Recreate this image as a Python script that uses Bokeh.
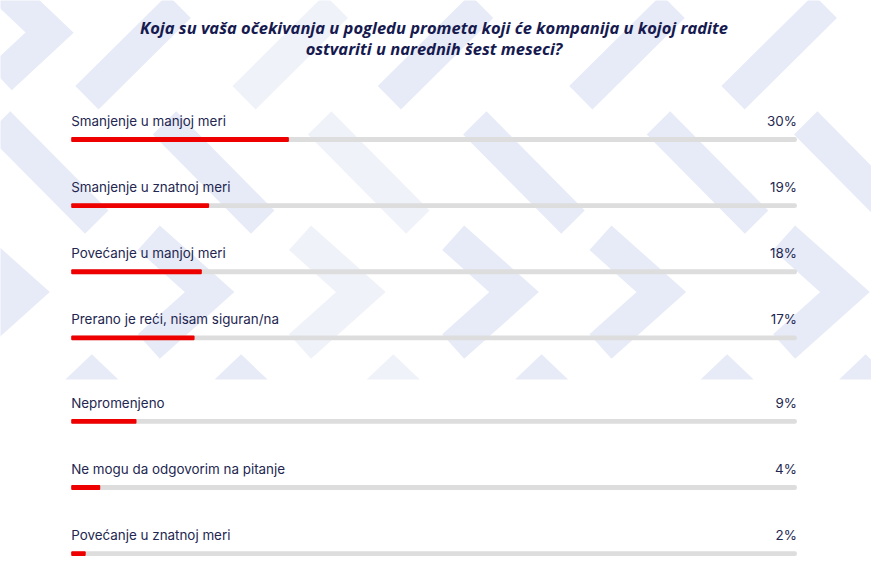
from bokeh.plotting import figure
from bokeh.models import Range1d, ColumnDataSource
from bokeh.core.properties import value
from bokeh.embed import file_html
from bokeh.resources import INLINE

# ---------------- data ----------------
title_lines = [
    "Koja su vaša očekivanja u pogledu prometa koji će kompanija u kojoj radite",
    "ostvariti u narednih šest meseci?",
]
categories = [
    "Smanjenje u manjoj meri",
    "Smanjenje u znatnoj meri",
    "Povećanje u manjoj meri",
    "Prerano je reći, nisam siguran/na",
    "Nepromenjeno",
    "Ne mogu da odgovorim na pitanje",
    "Povećanje u znatnoj meri",
]
values = [30, 19, 18, 17, 9, 4, 2]
pct_labels = [f"{v}%" for v in values]

# ---------------- layout ----------------
W, H = 871, 557            # figure size (fits the 887x573 window with margins)
REF_W, REF_H = 887, 573    # design grid the layout is expressed in
PX_PER_PCT = 7.39          # design pixels per percent point
X0 = 72                    # design pixel where 0 % sits
x_start = -X0 / PX_PER_PCT
x_end = (REF_W - X0) / PX_PER_PCT

p = figure(width=W, height=H, output_backend="svg", toolbar_location=None,
           x_range=Range1d(x_start, x_end), y_range=Range1d(REF_H, 0),
           x_axis_location=None, y_axis_location=None, min_border=0)
p.grid.visible = False
p.outline_line_color = None
p.background_fill_color = "white"
p.border_fill_color = "white"


def sx(px):
    """design x (pixel) -> data x"""
    return (px - X0) / PX_PER_PCT


# ---------------- decorative background ----------------
main_c, light_c = "#e7ebf7", "#f0f2fa"
band1 = [(135, main_c), (295, light_c), (443, main_c), (638, main_c), (793, main_c)]
band2 = [(48, main_c), (217, main_c), (375, light_c), (533, main_c), (720, main_c), (870, main_c)]
band3 = [(25, main_c), (213, main_c), (367, light_c), (523, main_c), (673, main_c), (860, main_c)]
band4 = [(93, main_c), (245, main_c), (400, light_c), (551, main_c), (740, main_c), (881, main_c)]

xs, ys, cs = [], [], []
for cx, c in band1:
    xs.append([sx(cx - 47), sx(cx + 47)]); ys.append([100, 6]); cs.append(c)
xs.append([sx(0), sx(50), sx(0)]); ys.append([-15, 33, 80]); cs.append(main_c)
for cx, c in band2:
    xs.append([sx(cx - 50), sx(cx + 50)]); ys.append([126, 228]); cs.append(c)
for cx, c in band3:
    xs.append([sx(cx - 62), sx(cx), sx(cx - 62)]); ys.append([244, 300, 356]); cs.append(c)
p.multi_line(xs=xs, ys=ys, line_color=cs, line_width=33, line_join="miter", line_cap="butt")
txs, tys, tcs = [], [], []
for cx, c in band4:
    txs.append([sx(cx - 27), sx(cx), sx(cx + 27)]); tys.append([390, 364, 390]); tcs.append(c)
p.patches(xs=txs, ys=tys, fill_color=tcs, line_color=None)

# ---------------- rows ----------------
n = len(categories)
row_step, group_gap, top_bar = 68, 18, 143
bar_y = [top_bar + row_step * i + (group_gap if i >= 4 else 0) for i in range(n)]
label_y = [b - 19 for b in bar_y]

src = ColumnDataSource(dict(cat=categories, val=values, pct=pct_labels,
                            by=bar_y, ly=label_y,
                            zero=[0] * n, full=[100] * n))

p.hbar(y="by", left="zero", right="full", height=5, source=src,
       fill_color="#dddddd", line_color=None, border_radius=2)
p.hbar(y="by", left="zero", right="val", height=5, source=src,
       fill_color="#ee0000", line_color=None, border_radius=1)

p.text(x="zero", y="ly", text="cat", source=src,
       text_font=value("Inter"), text_font_size="13.4px", text_color="#232650",
       text_align="left", text_baseline="alphabetic")
p.text(x="full", y="ly", text="pct", source=src,
       text_font=value("Inter"), text_font_size="13.4px", text_color="#232650",
       text_align="right", text_baseline="alphabetic")

# ---------------- title ----------------
p.text(x=[50, 50], y=[28, 49], text=title_lines,
       text_font=value("Open Sans"), text_font_style="bold italic",
       text_font_size="16.5px", text_color="#161a4f",
       text_align="center", text_baseline="alphabetic")

open("out.html", "w").write(file_html(p, INLINE))
